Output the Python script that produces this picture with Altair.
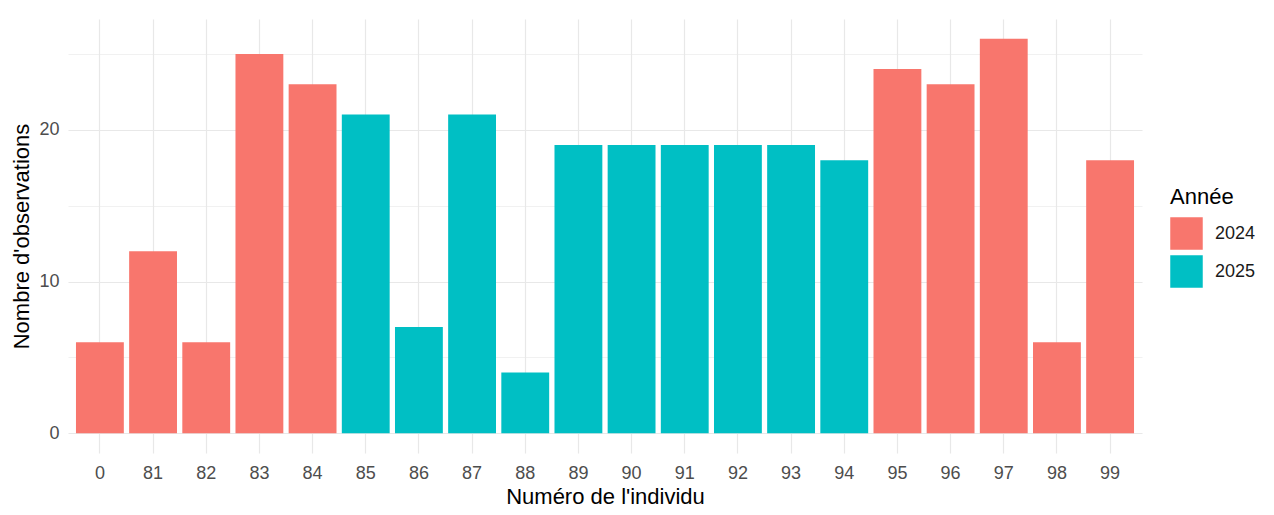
import altair as alt
import pandas as pd

ids = ["0", "81", "82", "83", "84", "85", "86", "87", "88", "89",
       "90", "91", "92", "93", "94", "95", "96", "97", "98", "99"]
counts = [6, 12, 6, 25, 23, 21, 7, 21, 4, 19,
          19, 19, 19, 19, 18, 24, 23, 26, 6, 18]
years = ["2024", "2024", "2024", "2024", "2024", "2025", "2025", "2025", "2025", "2025",
         "2025", "2025", "2025", "2025", "2025", "2024", "2024", "2024", "2024", "2024"]
year_levels = ["2024", "2025"]
year_colors = ["#F8766D", "#00BFC4"]
y_ticks = [0, 5, 10, 15, 20, 25]

df = pd.DataFrame({"id": ids, "n": counts, "Année": years})

FONT = "Liberation Sans"

chart = alt.Chart(df).mark_bar().encode(
    x=alt.X("id:N", sort=ids, title="Numéro de l'individu",
            scale=alt.Scale(paddingInner=0.1, paddingOuter=0.15),
            axis=alt.Axis(grid=True, bandPosition=0.5, ticks=False, domain=False,
                          labelAngle=0, labelPadding=11, titlePadding=4,
                          gridColor="#E8E8E8", gridWidth=1.2)),
    y=alt.Y("n:Q", title="Nombre d'observations",
            scale=alt.Scale(domain=[-1.3, 27.3], nice=False, zero=False),
            axis=alt.Axis(values=y_ticks, ticks=False, domain=False,
                          labelExpr="datum.value % 10 == 0 ? datum.label : ''",
                          labelPadding=9, titlePadding=5,
                          gridColor="#E8E8E8",
                          gridWidth={"condition": {"test": "datum.value % 10 == 0", "value": 1.2},
                                     "value": 0.6})),
    y2=alt.datum(0),
    color=alt.Color("Année:N", scale=alt.Scale(domain=year_levels, range=year_colors),
                    legend=alt.Legend(orient="none", legendX=1102, legendY=168,
                                      symbolType="square", symbolSize=1056,
                                      symbolStrokeWidth=0, symbolOpacity=1,
                                      titlePadding=8, rowPadding=5, labelOffset=12,
                                      padding=0)),
).properties(
    width=1074, height=434,
    autosize=alt.AutoSizeParams(type="none"),
    padding={"left": 60, "top": 11, "right": 124, "bottom": 54},
).configure_view(
    stroke=None
).configure_axis(
    labelFont=FONT, titleFont=FONT, labelFontSize=18, titleFontSize=22,
    labelColor="#4D4D4D", titleColor="#000000", titleFontWeight="normal",
).configure_legend(
    labelFont=FONT, titleFont=FONT, labelFontSize=18, titleFontSize=22,
    labelColor="#1A1A1A", titleColor="#000000", titleFontWeight="normal",
)

chart.save("out.html", embed_options={"renderer": "svg", "actions": False})
